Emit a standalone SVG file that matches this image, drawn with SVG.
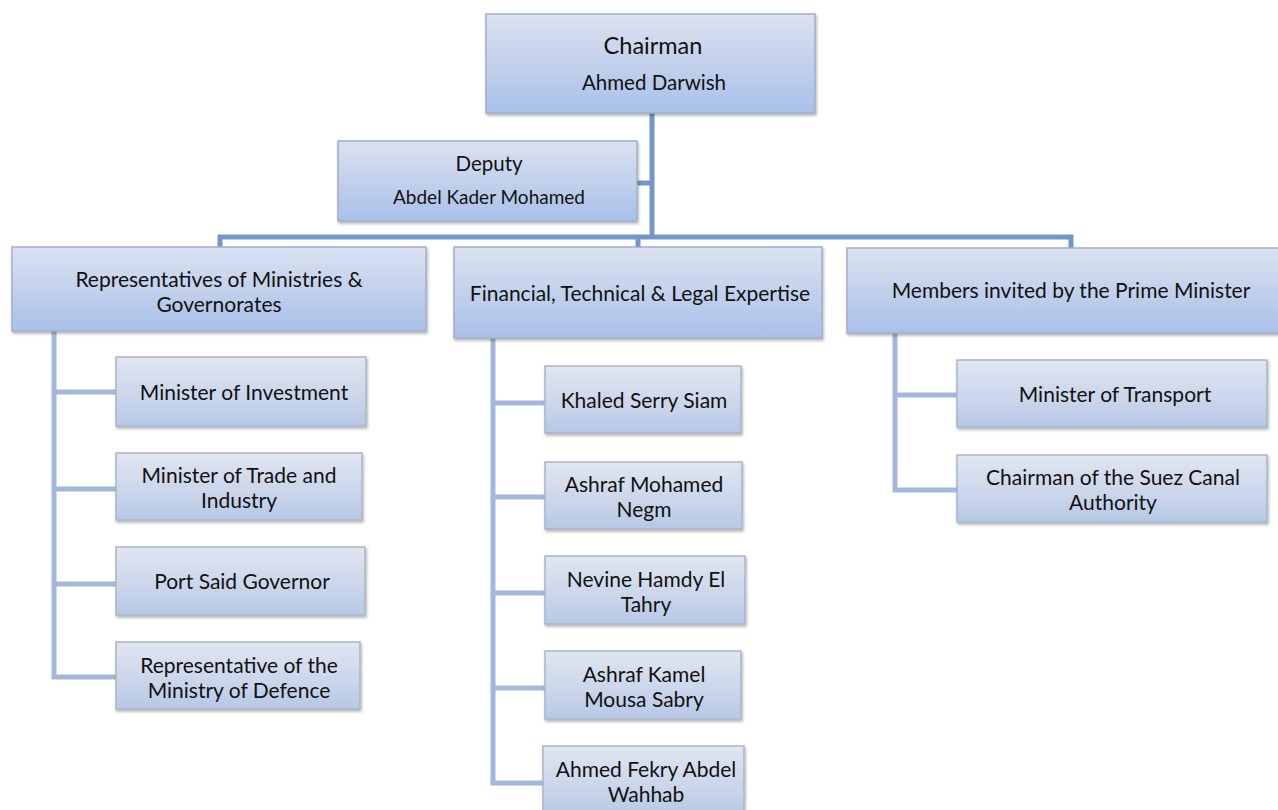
<svg xmlns="http://www.w3.org/2000/svg" width="1278" height="810" viewBox="0 0 1278 810">
<defs>
<linearGradient id="gTop" x1="0" y1="0" x2="0" y2="1">
<stop offset="0" stop-color="#dbe2f0"/>
<stop offset="0.55" stop-color="#c0cfeb"/>
<stop offset="1" stop-color="#a9c0ea"/>
</linearGradient>
<linearGradient id="gChild" x1="0" y1="0" x2="0" y2="1">
<stop offset="0" stop-color="#e0e6f1"/>
<stop offset="0.6" stop-color="#cad5ea"/>
<stop offset="1" stop-color="#b6c8e6"/>
</linearGradient>
<filter id="sh" x="-5%" y="-10%" width="110%" height="125%">
<feDropShadow dx="1" dy="2" stdDeviation="1.5" flood-color="#000" flood-opacity="0.3"/>
</filter>
</defs>
<style>
.top{fill:url(#gTop);stroke:#a2afc6;stroke-width:1.5;filter:url(#sh)}
.child{fill:url(#gChild);stroke:#aab5c8;stroke-width:1.5;filter:url(#sh)}
.main{stroke:#7396c9;stroke-width:5;fill:none}
.sub{stroke:#a4b7da;stroke-width:5;fill:none}
text{font-family:Lato,"Liberation Sans",sans-serif;fill:#111;text-anchor:middle}
.t{font-size:21px}
.tc{font-size:23.5px}
.tn{font-size:20.5px}
.ts{font-size:19px}
</style>
<rect width="1278" height="810" fill="#fff"/>
<g id="connectors">
<path class="main" d="M652 113 V237"/>
<path class="main" d="M637 183 H652"/>
<path class="main" d="M220 249 V237 H1071 V249"/>
<path class="main" d="M638 237 V249"/>
<path class="sub" d="M54 331 V677 H116"/>
<path class="sub" d="M54 392 H116 M54 489 H116 M54 584 H116"/>
<path class="sub" d="M493 338 V783 H545"/>
<path class="sub" d="M493 403 H545 M493 497 H545 M493 593 H545 M493 688 H545"/>
<path class="sub" d="M895 333 V490 H957 M895 395 H957"/>
</g>
<g id="chairman">
<rect class="top" x="486" y="14" width="329" height="99"/>
<text class="tc" x="653" y="54">Chairman</text>
<text class="tn" x="654" y="90">Ahmed Darwish</text>
</g>
<g id="deputy">
<rect class="top" x="338" y="141" width="299" height="80"/>
<text class="tn" x="489" y="171">Deputy</text>
<text class="ts" x="489" y="204">Abdel Kader Mohamed</text>
</g>
<g id="representatives">
<rect class="top" x="12" y="247" width="414" height="84"/>
<text class="t" x="219" y="287">Representatives of Ministries &amp;</text>
<text class="t" x="219" y="312">Governorates</text>
</g>
<g id="expertise">
<rect class="top" x="454" y="247" width="368" height="91"/>
<text class="t" x="640" y="301">Financial, Technical &amp; Legal Expertise</text>
</g>
<g id="members">
<rect class="top" x="847" y="248" width="448" height="85"/>
<text class="t" x="1071" y="298">Members invited by the Prime Minister</text>
</g>
<g id="min-investment">
<rect class="child" x="116" y="357" width="250" height="69"/>
<text class="t" x="244" y="400">Minister of Investment</text>
</g>
<g id="min-trade">
<rect class="child" x="116" y="453" width="246" height="67"/>
<text class="t" x="239" y="483">Minister of Trade and</text>
<text class="t" x="239" y="508">Industry</text>
</g>
<g id="portsaid">
<rect class="child" x="116" y="547" width="249" height="68"/>
<text class="t" x="242" y="589">Port Said Governor</text>
</g>
<g id="defence">
<rect class="child" x="116" y="642" width="244" height="67"/>
<text class="t" x="239" y="673">Representative of the</text>
<text class="t" x="239" y="698">Ministry of Defence</text>
</g>
<g id="khaled">
<rect class="child" x="545" y="366" width="196" height="67"/>
<text class="t" x="644" y="408">Khaled Serry Siam</text>
</g>
<g id="ashraf-negm">
<rect class="child" x="545" y="462" width="197" height="67"/>
<text class="t" x="644" y="492">Ashraf Mohamed</text>
<text class="t" x="644" y="517">Negm</text>
</g>
<g id="nevine">
<rect class="child" x="545" y="556" width="200" height="68"/>
<text class="t" x="646" y="587">Nevine Hamdy El</text>
<text class="t" x="646" y="612">Tahry</text>
</g>
<g id="ashraf-sabry">
<rect class="child" x="545" y="651" width="196" height="68"/>
<text class="t" x="644" y="682">Ashraf Kamel</text>
<text class="t" x="644" y="707">Mousa Sabry</text>
</g>
<g id="ahmed-fekry">
<rect class="child" x="543" y="746" width="201" height="70"/>
<text class="t" x="646" y="777">Ahmed Fekry Abdel</text>
<text class="t" x="646" y="802">Wahhab</text>
</g>
<g id="min-transport">
<rect class="child" x="957" y="360" width="310" height="67"/>
<text class="t" x="1115" y="402">Minister of Transport</text>
</g>
<g id="suez">
<rect class="child" x="957" y="455" width="310" height="67"/>
<text class="t" x="1113" y="485">Chairman of the Suez Canal</text>
<text class="t" x="1113" y="510">Authority</text>
</g>
</svg>
